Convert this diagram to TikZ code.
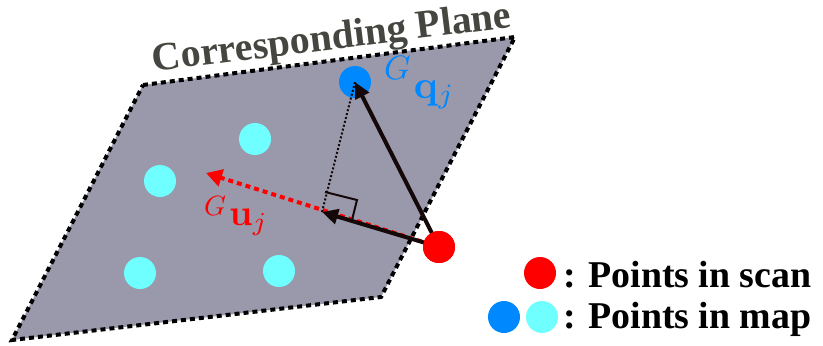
\RequirePackage{fix-cm}
\documentclass[tikz,border=0pt]{standalone}
\usepackage{graphicx}
\usepackage[no-math]{fontspec}
\setmainfont{Liberation Serif}[BoldFont={Liberation Serif Bold}]
\usetikzlibrary{arrows.meta}
\definecolor{planefill}{RGB}{154,153,171}
\definecolor{mapblue}{RGB}{0,136,255}
\definecolor{mapcyan}{RGB}{112,255,255}
\definecolor{titlegray}{RGB}{70,70,64}
\definecolor{arrowblack}{RGB}{20,8,8}
\tikzset{
  dot/.style={circle,inner sep=0pt,minimum size=32bp},
  bigarrow/.style={draw=arrowblack,line width=4bp,-{Triangle[length=16bp,width=15bp]}},
  planeedge/.style={line width=4bp,dash pattern=on 5bp off 4bp},
  legendtext/.style={font=\fontsize{38}{40}\selectfont\bfseries,anchor=base west,inner sep=0pt},
  mathlabel/.style={anchor=base west,inner sep=0pt,font=\fontsize{10}{12}\selectfont}
}
\begin{document}
\begin{tikzpicture}[x=1bp,y=-1bp]
\useasboundingbox (0,0) rectangle (823,345);
% plane
\coordinate (TL) at (143,85);
\coordinate (TR) at (515,37);
\coordinate (BR) at (381,297);
\coordinate (BL) at (12,340);
\fill[planefill] (TL) -- (TR) -- (BR) -- (BL) -- cycle;
\draw[planeedge] (TL) -- (TR) -- (BR) -- (BL) -- cycle;
\node[rotate=7,text=titlegray,font=\fontsize{40}{42}\selectfont\bfseries,inner sep=0pt] (title) at (332,40) {Corresponding Plane};
% map points
\node[dot,fill=mapcyan] (c1) at (160,181) {};
\node[dot,fill=mapcyan] (c2) at (255,139) {};
\node[dot,fill=mapcyan] (c3) at (140,273) {};
\node[dot,fill=mapcyan] (c4) at (279,271) {};
\node[dot,fill=mapblue] (q) at (355,82) {};
% scan point
\node[dot,fill=red] (p) at (439,247) {};
\coordinate (foot) at (322,212);
\coordinate (utip) at (206,173);
% red dotted direction
\draw[red,line width=4bp,dash pattern=on 5bp off 4bp,-{Triangle[length=16bp,width=17bp]}] (p.center) -- (utip);
% projection line
\draw[arrowblack,line width=2bp,dash pattern=on 2bp off 2bp] (foot) -- (q.center);
% right angle
\draw[arrowblack,line width=2bp] (325,192) -- (357,200) -- (352,220);
% arrows
\draw[bigarrow] (p.center) -- (foot);
\draw[bigarrow] (p.center) -- (q.center);
\node[dot,fill=red] at (p) {};
% labels
\node[text=mapblue,mathlabel] (ql) at (384,98) {\raisebox{19bp}{\scalebox{3.4}{$G$}}\hspace{3bp}\scalebox{4.0}{$\mathbf{q}_j$}};
\node[text=red,mathlabel] (ul) at (204,225) {\raisebox{10bp}{\scalebox{2.8}{$G$}}\hspace{3bp}\scalebox{3.7}{$\mathbf{u}_j$}};
% legend
\node[dot,fill=red] (lr) at (540,273) {};
\node[dot,fill=mapblue] (lb) at (504,317) {};
\node[dot,fill=mapcyan] (lc) at (542,317) {};
\node[legendtext] (t1) at (563,287) {: Points in scan};
\node[legendtext] (t2) at (563,328) {: Points in map};
\end{tikzpicture}
\end{document}
